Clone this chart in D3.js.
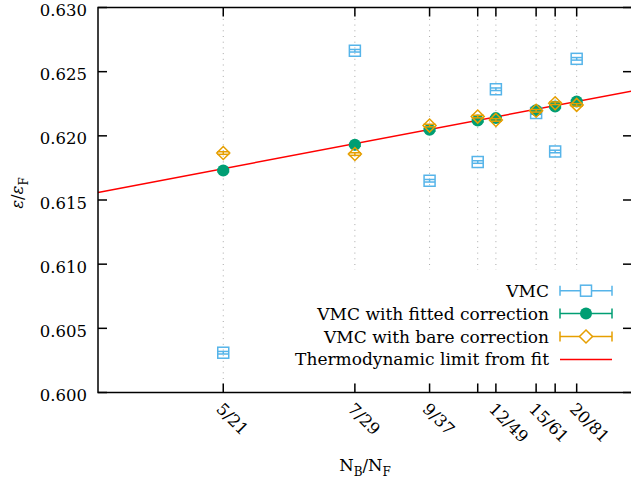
<!DOCTYPE html>
<html>
<head>
<meta charset="utf-8">
<script src="https://cdn.jsdelivr.net/npm/d3@7"></script>
<style>
  body { margin: 0; background: #fff; }
  text { font-family: "DejaVu Serif", serif; font-size: 16.5px; fill: #000; }
  .legend text { font-size: 17px; }
</style>
</head>
<body>
<div id="chart"></div>
<script>
// N_B / N_F system sizes
const sizeNB = [5, 7, 9, 11, 12, 15, 17, 20];
const sizeNF = [21, 29, 37, 45, 49, 61, 69, 81];
const labelled = ["5/21", "7/29", "9/37", "12/49", "15/61", "20/81"];

// energies in units of eps_F
const vmc = [0.60310, 0.62663, 0.61650, 0.61796, 0.62363, 0.62178, 0.61878, 0.62600];
const vmcFitted = [0.61730, 0.61930, 0.62047, 0.62119, 0.62138, 0.62200, 0.62228, 0.62267];
const vmcBare = [0.61866, 0.61858, 0.62080, 0.62150, 0.62124, 0.62195, 0.62254, 0.62241];
const errVmc = 0.0001;
const errCorr = 0.0001;

// linear fit: E = fitLimit + fitSlope * (x - 0.25)
const fitLimit = 0.62451;
const fitSlope = 0.5937;

const yTicks = [0.600, 0.605, 0.610, 0.615, 0.620, 0.625, 0.630];

const width = 631, height = 483;
const mLeft = 98, mRight = 632, mTop = 7.5, mBottom = 392.5;

const svg = d3.select("#chart").append("svg")
  .attr("width", width)
  .attr("height", height);

const xs = sizeNB.map((b, i) => b / sizeNF[i]);
const x = d3.scaleLinear().domain([0.23497, 0.248294]).range([mLeft, mRight]);
const y = d3.scaleLinear().domain([0.600, 0.630]).range([mBottom, mTop]);

// dotted grid at every size
svg.append("g").selectAll("line")
  .data(xs)
  .join("line")
  .attr("x1", d => x(d)).attr("x2", d => x(d))
  .attr("y1", mTop).attr("y2", mBottom)
  .attr("stroke", "#a8a8a8")
  .attr("stroke-width", 1)
  .attr("stroke-dasharray", "1,4.7");

// fit line
const plot = svg.append("g");
plot.append("line")
  .attr("x1", mLeft).attr("x2", mRight)
  .attr("y1", y(fitLimit + fitSlope * (x.domain()[0] - 0.25)))
  .attr("y2", y(fitLimit + fitSlope * (x.domain()[1] - 0.25)))
  .attr("stroke", "red")
  .attr("stroke-width", 1.5);

function errBars(g, vals, err, color, cap) {
  vals.forEach((v, i) => {
    const cx = x(xs[i]);
    const y0 = y(v - err), y1 = y(v + err);
    g.append("line").attr("x1", cx).attr("x2", cx).attr("y1", y0).attr("y2", y1)
      .attr("stroke", color).attr("stroke-width", 1.5);
    [y0, y1].forEach(yy => g.append("line")
      .attr("x1", cx - cap).attr("x2", cx + cap).attr("y1", yy).attr("y2", yy)
      .attr("stroke", color).attr("stroke-width", 1.5));
  });
}

const blue = "#56b4e9", green = "#009e73", orange = "#e69f00";

function square(g, cx, cy) {
  g.append("rect").attr("x", cx - 5.5).attr("y", cy - 5.5)
    .attr("width", 11).attr("height", 11)
    .attr("fill", "none").attr("stroke", blue).attr("stroke-width", 1.5);
}
function circle(g, cx, cy) {
  g.append("circle").attr("cx", cx).attr("cy", cy).attr("r", 6).attr("fill", green);
}
function diamond(g, cx, cy) {
  const r = 6.5;
  g.append("path")
    .attr("d", `M${cx},${cy - r}L${cx + r},${cy}L${cx},${cy + r}L${cx - r},${cy}Z`)
    .attr("fill", "none").attr("stroke", orange).attr("stroke-width", 1.5);
}

// VMC
errBars(plot, vmc, errVmc, blue, 5.5);
vmc.forEach((v, i) => square(plot, x(xs[i]), y(v)));
// fitted correction
errBars(plot, vmcFitted, errCorr, green, 6);
vmcFitted.forEach((v, i) => circle(plot, x(xs[i]), y(v)));
// bare correction
errBars(plot, vmcBare, errCorr, orange, 6);
vmcBare.forEach((v, i) => diamond(plot, x(xs[i]), y(v)));

// legend with opaque box
const legend = svg.append("g").attr("class", "legend");
legend.append("rect")
  .attr("x", 290).attr("y", 270).attr("width", 345).attr("height", 111)
  .attr("fill", "#fff");
const entries = [
  { name: "VMC", color: blue, mark: square },
  { name: "VMC with fitted correction", color: green, mark: circle },
  { name: "VMC with bare correction", color: orange, mark: diamond },
  { name: "Thermodynamic limit from fit", color: "red", mark: null }
];
entries.forEach((e, i) => {
  const ly = 290.7 + i * 22.9;
  legend.append("text").attr("x", 549).attr("y", ly + 6)
    .attr("text-anchor", "end").text(e.name);
  legend.append("line").attr("x1", 560).attr("x2", 612).attr("y1", ly).attr("y2", ly)
    .attr("stroke", e.color).attr("stroke-width", 1.5);
  if (e.mark) {
    [560, 612].forEach(cx => legend.append("line")
      .attr("x1", cx).attr("x2", cx).attr("y1", ly - 5).attr("y2", ly + 5)
      .attr("stroke", e.color).attr("stroke-width", 1.5));
    if (e.mark === square) {
      legend.append("rect").attr("x", 580.5).attr("y", ly - 5.5).attr("width", 11).attr("height", 11)
        .attr("fill", "#fff").attr("stroke", blue).attr("stroke-width", 1.5);
    } else if (e.mark === diamond) {
      const r = 6.5;
      legend.append("path")
        .attr("d", `M586,${ly - r}L${586 + r},${ly}L586,${ly + r}L${586 - r},${ly}Z`)
        .attr("fill", "#fff").attr("stroke", orange).attr("stroke-width", 1.5);
    } else {
      e.mark(legend, 586, ly);
    }
  }
});

// frame and ticks
const axes = svg.append("g").attr("stroke", "#000").attr("stroke-width", 1.5);
axes.append("rect").attr("x", mLeft).attr("y", mTop)
  .attr("width", mRight - mLeft).attr("height", mBottom - mTop).attr("fill", "none");
yTicks.forEach(t => {
  axes.append("line").attr("x1", mLeft).attr("x2", mLeft + 9).attr("y1", y(t)).attr("y2", y(t));
  axes.append("line").attr("x1", mRight - 9).attr("x2", mRight).attr("y1", y(t)).attr("y2", y(t));
});
xs.forEach(d => {
  axes.append("line").attr("x1", x(d)).attr("x2", x(d)).attr("y1", mBottom).attr("y2", mBottom - 9);
  axes.append("line").attr("x1", x(d)).attr("x2", x(d)).attr("y1", mTop).attr("y2", mTop + 9);
});

svg.append("g").selectAll("text")
  .data(yTicks)
  .join("text")
  .attr("x", 87)
  .attr("y", d => y(d) + 8.5)
  .attr("text-anchor", "end")
  .text(d => d3.format(".3f")(d));

const tickLabels = xs.map((d, i) => sizeNB[i] + "/" + sizeNF[i]);
svg.append("g").selectAll("text")
  .data(xs.filter((d, i) => labelled.includes(tickLabels[i])))
  .join("text")
  .attr("transform", d => `translate(${x(d) - 8},${410}) rotate(45)`)
  .text(d => tickLabels[xs.indexOf(d)]);

// axis titles
const xl = svg.append("text").attr("x", 365).attr("y", 470.5).attr("text-anchor", "middle");
xl.append("tspan").text("N");
xl.append("tspan").attr("dy", 5).attr("font-size", "12px").text("B");
xl.append("tspan").attr("dy", -5).text("/N");
xl.append("tspan").attr("dy", 5).attr("font-size", "12px").text("F");

const yl = svg.append("text")
  .attr("transform", "translate(23,193) rotate(-90)")
  .attr("text-anchor", "middle");
yl.append("tspan").attr("font-style", "italic").text("ε");
yl.append("tspan").text("/");
yl.append("tspan").attr("font-style", "italic").text("ε");
yl.append("tspan").attr("dy", 5).attr("font-size", "12px").text("F");
</script>
</body>
</html>
